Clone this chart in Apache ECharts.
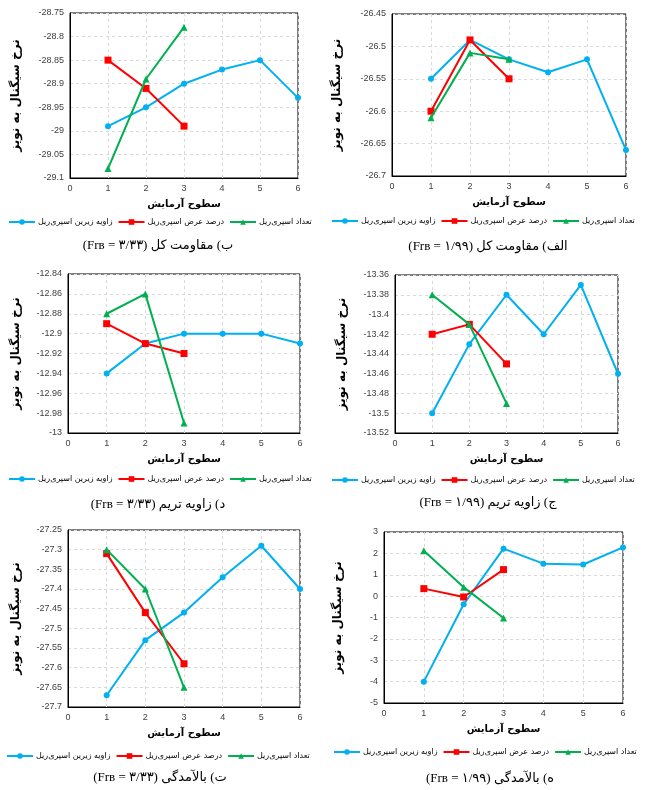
<!DOCTYPE html>
<html lang="fa">
<head>
<meta charset="UTF-8">
<title>نرخ سیگنال به نویز</title>
<style>
  html, body { margin: 0; padding: 0; background: #fff; }
  #chart { width: 647px; height: 790px; }
</style>
</head>
<body>
<script src="https://cdn.jsdelivr.net/npm/echarts@6/dist/echarts.min.js"></script>
<div id="chart"></div>
<script>
// سطوح آزمایش
var levels = [1, 2, 3, 4, 5, 6];
var seriesNames = ['زاویه زیرین اسپری‌ریل', 'درصد عرض اسپری‌ریل', 'تعداد اسپری‌ریل'];
var seriesColors = ['#00B0F0', '#FF0000', '#00B050'];
var seriesSymbols = ['circle', 'rect', 'triangle'];

// ب) مقاومت کل Fr=3.33
var resHighAngle = [-28.99, -28.95, -28.90, -28.87, -28.85, -28.93];
var resHighWidth = [-28.85, -28.91, -28.99];
var resHighCount = [-29.08, -28.89, -28.78];
// الف) مقاومت کل Fr=1.99
var resLowAngle = [-26.55, -26.49, -26.52, -26.54, -26.52, -26.66];
var resLowWidth = [-26.60, -26.49, -26.55];
var resLowCount = [-26.61, -26.51, -26.52];
// د) زاویه تریم Fr=3.33
var trimHighAngle = [-12.94, -12.91, -12.90, -12.90, -12.90, -12.91];
var trimHighWidth = [-12.89, -12.91, -12.92];
var trimHighCount = [-12.88, -12.86, -12.99];
// ج) زاویه تریم Fr=1.99
var trimLowAngle = [-13.50, -13.43, -13.38, -13.42, -13.37, -13.46];
var trimLowWidth = [-13.42, -13.41, -13.45];
var trimLowCount = [-13.38, -13.41, -13.49];
// ت) بالآمدگی Fr=3.33
var heaveHighAngle = [-27.67, -27.53, -27.46, -27.37, -27.29, -27.40];
var heaveHighWidth = [-27.31, -27.46, -27.59];
var heaveHighCount = [-27.30, -27.40, -27.65];
// ه) بالآمدگی Fr=1.99
var heaveLowAngle = [-4.0, -0.38, 2.22, 1.52, 1.48, 2.28];
var heaveLowWidth = [0.35, -0.04, 1.24];
var heaveLowCount = [2.12, 0.42, -1.02];

// y axis ranges [min, max, interval]
var yRanges = [
  [-29.1, -28.75, 0.05],
  [-26.7, -26.45, 0.05],
  [-13, -12.84, 0.02],
  [-13.52, -13.36, 0.02],
  [-27.7, -27.25, 0.05],
  [-5, 3, 1]
];

var captions = [
  'ب) مقاومت کل (Frʙ = ۳/۳۳)',
  'الف) مقاومت کل (Frʙ = ۱/۹۹)',
  'د) زاویه تریم (Frʙ = ۳/۳۳)',
  'ج) زاویه تریم (Frʙ = ۱/۹۹)',
  'ت) بالآمدگی (Frʙ = ۳/۳۳)',
  'ه) بالآمدگی (Frʙ = ۱/۹۹)'
];

var panelData = [
  [resHighAngle, resHighWidth, resHighCount],
  [resLowAngle, resLowWidth, resLowCount],
  [trimHighAngle, trimHighWidth, trimHighCount],
  [trimLowAngle, trimLowWidth, trimLowCount],
  [heaveHighAngle, heaveHighWidth, heaveHighCount],
  [heaveLowAngle, heaveLowWidth, heaveLowCount]
];

// layout of each panel: grid box, y-name gap, legend y, caption pos
var layout = [
  { left: 70,  top: 13,  width: 228, height: 165, yGap: 48, legendTop: 213, legendX: 160, capX: 158, capY: 246 },
  { left: 392, top: 14,  width: 234, height: 162, yGap: 49, legendTop: 212, legendX: 483, capX: 488, capY: 247 },
  { left: 68,  top: 274, width: 232, height: 159, yGap: 46, legendTop: 470, legendX: 160, capX: 158, capY: 505 },
  { left: 395, top: 275, width: 223, height: 158, yGap: 47, legendTop: 471, legendX: 483, capX: 488, capY: 503 },
  { left: 68,  top: 530, width: 232, height: 177, yGap: 46, legendTop: 747, legendX: 158, capX: 160, capY: 778 },
  { left: 384, top: 532, width: 239, height: 171, yGap: 40, legendTop: 743, legendX: 485, capX: 490, capY: 779 }
];

var grids = [], xAxes = [], yAxes = [], series = [], legends = [], graphics = [];

layout.forEach(function (p, i) {
  grids.push({
    left: p.left, top: p.top, width: p.width, height: p.height,
    show: true, borderColor: '#000', borderWidth: 1, backgroundColor: '#fff'
  });
  xAxes.push({
    gridIndex: i, type: 'value', min: 0, max: 6, interval: 1,
    name: 'سطوح آزمایش', nameLocation: 'middle', nameGap: 21,
    nameTextStyle: { fontFamily: 'DejaVu Sans', fontWeight: 'bold', fontSize: 10, color: '#000' },
    axisLine: { show: true, onZero: false, lineStyle: { color: '#000' } },
    axisTick: { show: false },
    axisLabel: { fontFamily: 'Liberation Sans', fontSize: 9, color: '#404040', margin: 6 },
    splitLine: { show: true, lineStyle: { color: '#d9d9d9', type: [3, 3] } }
  });
  var r = yRanges[i];
  yAxes.push({
    gridIndex: i, type: 'value', min: r[0], max: r[1], interval: r[2],
    name: 'نرخ سیگنال به نویز', nameLocation: 'middle', nameGap: p.yGap, nameRotate: 90,
    nameTextStyle: { fontFamily: 'DejaVu Sans', fontWeight: 'bold', fontSize: 12, color: '#000' },
    axisLine: { show: true, lineStyle: { color: '#000' } },
    axisTick: { show: false },
    axisLabel: { fontFamily: 'Liberation Sans', fontSize: 9, color: '#404040', margin: 6 },
    splitLine: { show: true, lineStyle: { color: '#d9d9d9', type: [3, 3] } }
  });
  panelData[i].forEach(function (vals, k) {
    series.push({
      name: seriesNames[k], type: 'line', xAxisIndex: i, yAxisIndex: i,
      data: vals.map(function (v, j) { return [levels[j], v]; }),
      symbol: seriesSymbols[k], symbolSize: k === 0 ? 6 : 7,
      lineStyle: { color: seriesColors[k], width: 2 },
      itemStyle: { color: seriesColors[k] },
      animation: false, z: 3 + k
    });
  });
  legends.push({
    data: seriesNames, left: p.legendX - 160, top: p.legendTop,
    itemWidth: 26, itemHeight: 7, itemGap: 5,
    textStyle: { fontFamily: 'DejaVu Sans', fontSize: 8, color: '#000', padding: [0, 0, 0, -2] },
    selectedMode: false
  });
  graphics.push({
    type: 'text', x: p.capX, y: p.capY,
    style: {
      text: '\u202B' + captions[i] + '\u202C',
      font: '13px "Liberation Serif", "DejaVu Sans", serif',
      fill: '#000', textAlign: 'center', textVerticalAlign: 'middle'
    }
  });
});

var myChart = echarts.init(document.getElementById('chart'));
myChart.setOption({
  backgroundColor: '#fff',
  animation: false,
  grid: grids,
  xAxis: xAxes,
  yAxis: yAxes,
  legend: legends,
  series: series,
  graphic: graphics
});

// center each legend under its panel
legends.forEach(function (lg, i) {
  var view = myChart.getViewOfComponentModel(myChart.getModel().getComponent('legend', i));
  var rect = view.group.getBoundingRect();
  lg.left = Math.round(layout[i].legendX - rect.width / 2);
});
myChart.setOption({ legend: legends });
</script>
</body>
</html>
